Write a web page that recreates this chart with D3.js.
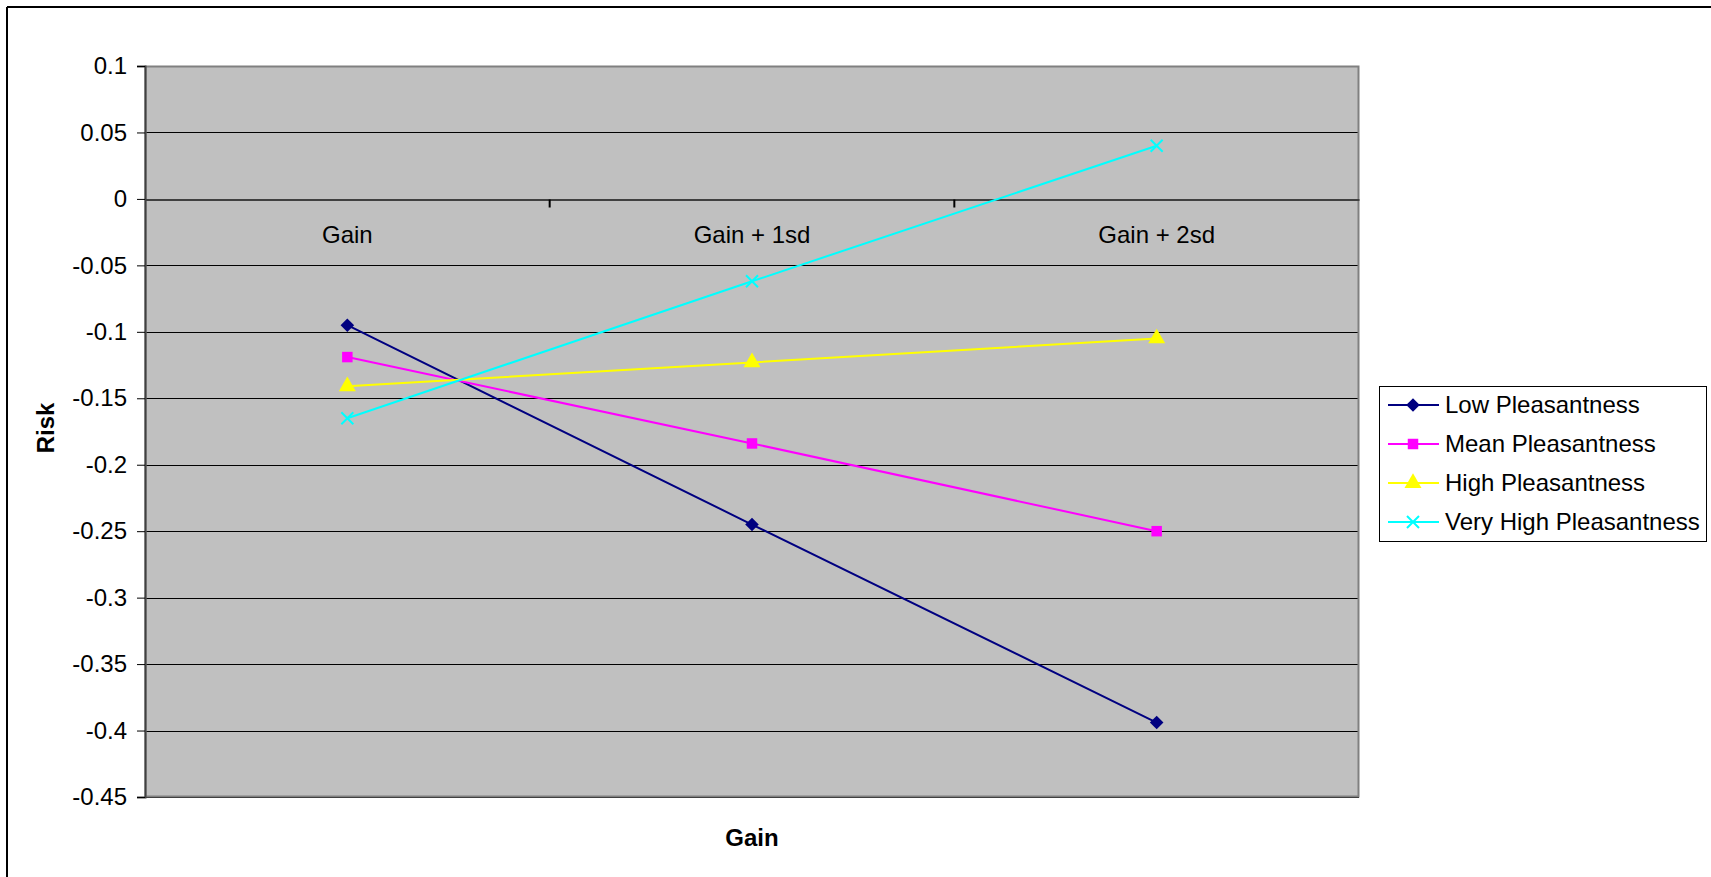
<!DOCTYPE html>
<html>
<head>
<meta charset="utf-8">
<script src="https://cdn.jsdelivr.net/npm/d3@7/dist/d3.min.js"></script>
<style>
  html, body { margin: 0; padding: 0; background: #fff; }
  svg { display: block; }
  text { font-family: "Liberation Sans", Arial, sans-serif; fill: #000; }
</style>
</head>
<body>
<svg id="chart" width="1711" height="877"></svg>
<script>
// Categories along the Gain axis
const categories = ["Gain", "Gain + 1sd", "Gain + 2sd"];

// Series values (Risk)
const lowPleasantness      = [-0.095, -0.245, -0.394];
const meanPleasantness     = [-0.119, -0.184, -0.250];
const highPleasantness     = [-0.141, -0.123, -0.105];
const veryHighPleasantness = [-0.165, -0.062, 0.040];

const seriesNames = ["Low Pleasantness", "Mean Pleasantness", "High Pleasantness", "Very High Pleasantness"];
const seriesValues = [lowPleasantness, meanPleasantness, highPleasantness, veryHighPleasantness];

// Y-axis tick labels
const yTicks = [0.1, 0.05, 0, -0.05, -0.1, -0.15, -0.2, -0.25, -0.3, -0.35, -0.4, -0.45];

const colors = ["#000080", "#FF00FF", "#FFFF00", "#00FFFF"];
const FONT = 24;

const svg = d3.select("#chart");

// Outer chart frame (top and left edges visible)
svg.append("line").attr("x1", 7).attr("x2", 1711).attr("y1", 7).attr("y2", 7)
  .attr("stroke", "#000").attr("stroke-width", 2);
svg.append("line").attr("x1", 7).attr("x2", 7).attr("y1", 7).attr("y2", 877)
  .attr("stroke", "#000").attr("stroke-width", 2);

const plot = { left: 145, right: 1359, top: 66, bottom: 797 };

const x = d3.scaleBand().domain(categories).range([plot.left, plot.right]).padding(0);
const y = d3.scaleLinear().domain([-0.45, 0.1]).range([plot.bottom, plot.top]);

// Plot area background
svg.append("rect")
  .attr("x", plot.left).attr("y", plot.top)
  .attr("width", plot.right - plot.left).attr("height", plot.bottom - plot.top)
  .attr("fill", "#C0C0C0");

// Horizontal gridlines
svg.append("g").selectAll("line").data(yTicks).join("line")
  .attr("x1", plot.left).attr("x2", plot.right)
  .attr("y1", d => Math.round(y(d)) + 0.5).attr("y2", d => Math.round(y(d)) + 0.5)
  .attr("stroke", "#000").attr("stroke-width", 1);

// Plot area border
svg.append("rect")
  .attr("x", plot.left + 0.5).attr("y", plot.top + 0.5)
  .attr("width", plot.right - plot.left - 1).attr("height", plot.bottom - plot.top - 1)
  .attr("fill", "none").attr("stroke", "#808080").attr("stroke-width", 2);

// Y axis (plain hyphen-minus labels)
const yAxis = d3.axisLeft(y).tickValues(yTicks).tickSize(8).tickPadding(10)
  .tickFormat(d => String(+d.toFixed(2)));
const yg = svg.append("g").attr("transform", `translate(${plot.left},0)`).call(yAxis);
yg.select(".domain").attr("stroke", "#404040").attr("stroke-width", 2);
yg.selectAll(".tick line").attr("stroke", "#000");
yg.selectAll(".tick text").attr("font-size", FONT).attr("font-family", "Liberation Sans, Arial, sans-serif");

// Category axis drawn on the zero line
const xAxis = d3.axisBottom(x).tickSize(0).tickPadding(26);
const xg = svg.append("g").attr("transform", `translate(0,${Math.round(y(0)) + 0.5})`).call(xAxis);
xg.select(".domain").attr("stroke", "#404040").attr("stroke-width", 2);
xg.selectAll(".tick text").attr("font-size", FONT).attr("font-family", "Liberation Sans, Arial, sans-serif");
// Category boundary ticks
xg.append("g").selectAll("line").data(categories.slice(1)).join("line")
  .attr("x1", d => x(d)).attr("x2", d => x(d))
  .attr("y1", 0).attr("y2", 8)
  .attr("stroke", "#000").attr("stroke-width", 2);

// Lines and markers
const cx = c => x(c) + x.bandwidth() / 2;
const line = d3.line().x((d, i) => cx(categories[i])).y(d => y(d));

seriesValues.forEach((vals, s) => {
  svg.append("path").datum(vals)
    .attr("d", line).attr("fill", "none")
    .attr("stroke", colors[s]).attr("stroke-width", 2);
});

function drawMarker(g, s, px, py) {
  if (s === 3) {
    // X-shaped marker
    g.append("path")
      .attr("d", `M${px - 6},${py - 6}L${px + 6},${py + 6}M${px - 6},${py + 6}L${px + 6},${py - 6}`)
      .attr("stroke", colors[s]).attr("stroke-width", 2).attr("fill", "none");
  } else if (s === 0) {
    // Diamond: square turned 45 degrees
    g.append("path")
      .attr("d", d3.symbol().type(d3.symbolSquare).size(92)())
      .attr("transform", `translate(${px},${py}) rotate(45)`)
      .attr("fill", colors[s]);
  } else if (s === 1) {
    g.append("path")
      .attr("d", d3.symbol().type(d3.symbolSquare).size(110)())
      .attr("transform", `translate(${px},${py})`)
      .attr("fill", colors[s]);
  } else {
    g.append("path")
      .attr("d", d3.symbol().type(d3.symbolTriangle).size(125)())
      .attr("transform", `translate(${px},${py})`)
      .attr("fill", colors[s]);
  }
}

const markers = svg.append("g");
seriesValues.forEach((vals, s) => {
  vals.forEach((v, i) => drawMarker(markers, s, cx(categories[i]), y(v)));
});

// Axis titles
svg.append("text")
  .attr("transform", `translate(54,428) rotate(-90)`)
  .attr("text-anchor", "middle")
  .attr("font-size", FONT).attr("font-weight", "bold")
  .text("Risk");
svg.append("text")
  .attr("x", 752).attr("y", 846)
  .attr("text-anchor", "middle")
  .attr("font-size", FONT).attr("font-weight", "bold")
  .text("Gain");

// Legend
const legend = svg.append("g");
legend.append("rect")
  .attr("x", 1379.5).attr("y", 386.5).attr("width", 327).attr("height", 155)
  .attr("fill", "#fff").attr("stroke", "#000").attr("stroke-width", 1);
seriesNames.forEach((name, s) => {
  const ly = 405 + s * 39;
  legend.append("line").attr("x1", 1388).attr("x2", 1439).attr("y1", ly).attr("y2", ly)
    .attr("stroke", colors[s]).attr("stroke-width", 2);
  drawMarker(legend, s, 1413, ly);
  legend.append("text").attr("x", 1445).attr("y", ly + 8)
    .attr("font-size", FONT).text(name);
});
</script>
</body>
</html>
